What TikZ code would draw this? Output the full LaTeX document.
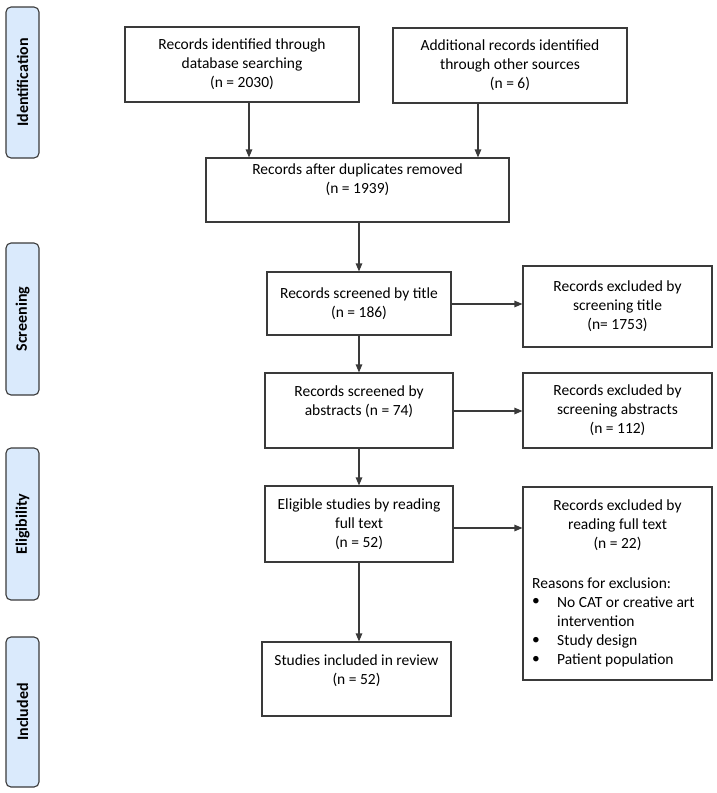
\documentclass[tikz,border=0pt]{standalone}
\usepackage{fontspec}
\setmainfont{Carlito}
\usetikzlibrary{arrows.meta,positioning}
\definecolor{lineg}{HTML}{3A3A3A}
\definecolor{sidefill}{HTML}{DAEAFC}
\tikzset{
  box/.style={draw=lineg, line width=1.1pt, align=center, inner sep=0pt,
    font=\fontsize{15.5}{19}\selectfont},
  side/.style={draw=lineg, line width=1.1pt, fill=sidefill, rounded corners=5pt,
    rotate=90, minimum height=33pt, inner sep=0pt,
    font=\fontsize{16}{18}\selectfont\bfseries},
  txt/.style={inner sep=0pt, font=\fontsize{15.5}{19}\selectfont},
  arr/.style={draw=lineg, line width=1.1pt, -{Triangle[length=8pt,width=6.5pt]}}
}
\begin{document}
\begin{tikzpicture}[x=1pt,y=-1pt]
\useasboundingbox (0,0) rectangle (717,793);
% side labels
\node[side, minimum width=151pt] (sid) at (22.5,82.5) {Identification};
\node[side, minimum width=152pt] (sscr) at (22.5,319) {Screening};
\node[side, minimum width=152pt] (selig) at (22.5,524) {Eligibility};
\node[side, minimum width=150pt] (sinc) at (22.5,712) {Included};
% boxes
\node[box, minimum width=234pt, minimum height=75pt] (b1) at (242,64.5)
  {Records identified through\\database searching\\(n = 2030)};
\node[box, minimum width=234pt, minimum height=75pt] (b2) at (510,65.5)
  {Additional records identified\\through other sources\\(n = 6)};
\node[box, minimum width=303pt, minimum height=64pt] (b3) at (357.5,190)
  {Records after duplicates removed\\(n = 1939)\\[3pt]};
\node[box, minimum width=184pt, minimum height=63pt] (b4) at (359,303.5)
  {Records screened by title\\(n = 186)};
\node[box, minimum width=189pt, minimum height=81pt] (e1) at (617.5,306.5)
  {Records excluded by\\screening title\\(n= 1753)};
\node[box, minimum width=188pt, minimum height=75pt] (b5) at (359,410.5)
  {Records screened by\\abstracts (n = 74)\\\mbox{}};
\node[box, minimum width=189pt, minimum height=75pt] (e2) at (617.5,410.5)
  {Records excluded by\\screening abstracts\\(n = 112)};
\node[box, minimum width=188pt, minimum height=76pt] (b6) at (359,524)
  {Eligible studies by reading\\full text\\(n = 52)};
\node[box, minimum width=189pt, minimum height=193pt] (e3) at (617.5,583.5) {};
\node[box, minimum width=189pt, minimum height=74pt] (b7) at (356.5,679)
  {Studies included in review\\(n = 52)\\\mbox{}};
% text inside e3
\node[txt, align=center, anchor=north] (e3t) at ([yshift=-13pt]e3.north)
  {Records excluded by\\reading full text\\(n = 22)};
\node[txt, anchor=west] (e3r) at (532,583) {Reasons for exclusion:};
\node[txt, anchor=center] (e3b1) at (536,602) {\textbullet};
\node[txt, anchor=west] (e3i1) at (557,602) {No CAT or creative art};
\node[txt, anchor=west] (e3i1b) at (557,621) {intervention};
\node[txt, anchor=center] (e3b2) at (536,641) {\textbullet};
\node[txt, anchor=west] (e3i2) at (557,641) {Study design};
\node[txt, anchor=center] (e3b3) at (536,660) {\textbullet};
\node[txt, anchor=west] (e3i3) at (557,660) {Patient population};
% arrows
\draw[arr] ([xshift=7pt]b1.south) -- ([xshift=7pt]b1.south |- b3.north);
\draw[arr] ([xshift=-32pt]b2.south) -- ([xshift=-32pt]b2.south |- b3.north);
\draw[arr] (b3.south -| b4.north) -- (b4.north);
\draw[arr] (b4.south) -- (b4.south |- b5.north);
\draw[arr] (b5.south) -- (b5.south |- b6.north);
\draw[arr] (b6.south) -- (b6.south |- b7.north);
\draw[arr] ([yshift=-0.5pt]b4.east) -- ([yshift=-0.5pt]b4.east -| e1.west);
\draw[arr] ([yshift=-0.5pt]b5.east) -- ([yshift=-0.5pt]b5.east -| e2.west);
\draw[arr] ([yshift=-4pt]b6.east) -- ([yshift=-4pt]b6.east -| e3.west);
\end{tikzpicture}
\end{document}
